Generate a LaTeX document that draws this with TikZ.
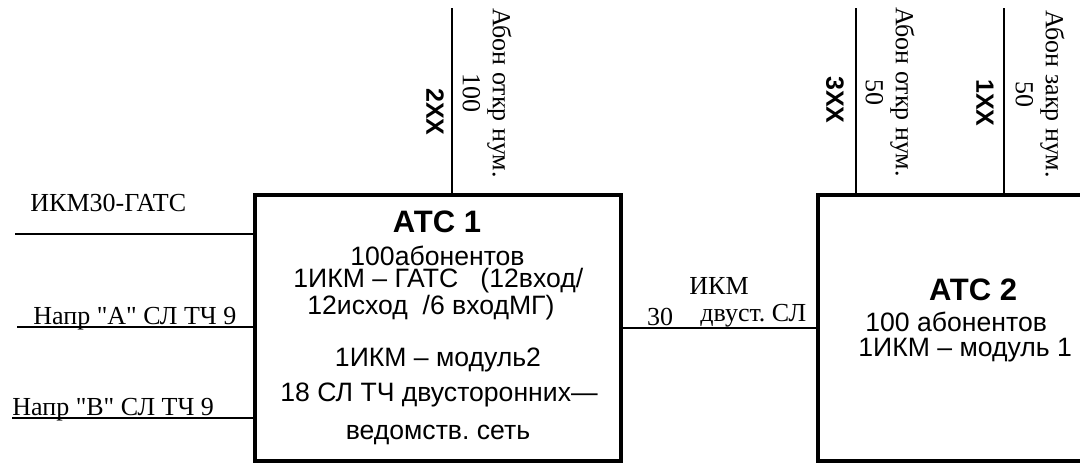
\documentclass[tikz,border=0pt]{standalone}
\usepackage{fontspec}
\setmainfont{Liberation Serif}[Ligatures=TeXOff]
\setsansfont{Liberation Sans}
\usepackage{tikz}
\frenchspacing

\begin{document}
\begin{tikzpicture}[x=0.5pt,y=-0.5pt,
    box/.style={draw,line width=2pt,rectangle,inner sep=0pt,outer sep=0pt},
    wire/.style={line width=0.75pt},
    sf/.style={font=\sffamily\fontsize{13.3}{15}\selectfont,inner sep=0pt},
    title/.style={font=\sffamily\bfseries\fontsize{15.5}{18}\selectfont,inner sep=0pt},
    rm/.style={font=\rmfamily\fontsize{13}{15}\selectfont,inner sep=0pt},
    code/.style={font=\sffamily\bfseries\fontsize{12.5}{15}\selectfont,inner sep=0pt,rotate=-90},
    vlab/.style={font=\rmfamily\fontsize{13}{15}\selectfont,inner sep=0pt,rotate=-90,align=center}]
    \useasboundingbox (0,0) rectangle (1080,463);
    \clip (0,0) rectangle (1080,463);
    % stations
    \node[box,minimum width=183pt,minimum height=133pt] (atc1) at (437.5,328) {};
    \node[box,minimum width=136pt,minimum height=133pt,anchor=west] (atc2) at (817.5,328) {};
    \node[title] (t1) at (437,222) {АТС 1};
    \node[sf,font=\sffamily\fontsize{13.3}{11}\selectfont,align=left,anchor=base west] (a1) at (293,314)
        {\hspace*{28.5pt}100абонентов\\1ИКМ – ГАТС\ \ \ (12вход/\\\hspace*{7pt}12исход\ \ /6 входМГ)};
    \node[sf] (a4) at (438,360) {1ИКМ – модуль2};
    \node[sf,anchor=west] (a5) at (280,395) {18 СЛ ТЧ двусторонних—};
    \node[sf] (a6) at (438,435) {ведомств. сеть};
    \node[title] (t2) at (973,290) {АТС 2};
    \node[sf,anchor=west] (b1) at (865,322) {100 абонентов};
    \node[sf,anchor=west] (b2) at (858,350) {1ИКМ – модуль 1};
    % incoming lines
    \coordinate (l1) at (15,234);
    \coordinate (l2) at (17,327);
    \coordinate (l3) at (12,418);
    \draw[wire] (l1) -- (l1 -| atc1.west);
    \draw[wire] (l2) -- (l2 -| atc1.west);
    \draw[wire] (l3) -- (l3 -| atc1.west);
    \node[rm,anchor=west] (n1) at (30,203) {ИКМ30-ГАТС};
    \node[rm,anchor=base west] (n2) at (33,324) {Напр "А" СЛ ТЧ 9};
    \node[rm,anchor=base west] (n3) at (12,415) {Напр "В" СЛ ТЧ 9};
    % trunk between stations
    \draw[wire] (atc1.east) -- (atc2.west);
    \node[rm] (k1) at (719,286) {ИКМ};
    \node[rm] (k2) at (660,317) {30};
    \node[rm,anchor=west] (k3) at (700,316) {двуст. СЛ};
    % subscriber groups
    \coordinate (s1) at (452,8);
    \coordinate (s2) at (856,8);
    \coordinate (s3) at (1004,8);
    \draw[wire] (s1) -- (s1 |- atc1.north);
    \draw[wire] (s2) -- (s2 |- atc2.north);
    \draw[wire] (s3) -- (s3 |- atc2.north);
    \node[code] (c1) at (435,112) {2XX};
    \node[vlab] (v1) at (487,93) {Абон откр нум.\\100};
    \node[code] (c2) at (835,100) {3XX};
    \node[vlab] (v2) at (890,92) {Абон откр нум.\\50};
    \node[code] (c3) at (985,103) {1XX};
    \node[vlab] (v3) at (1040,94) {Абон закр нум.\\50};
\end{tikzpicture}
\end{document}
